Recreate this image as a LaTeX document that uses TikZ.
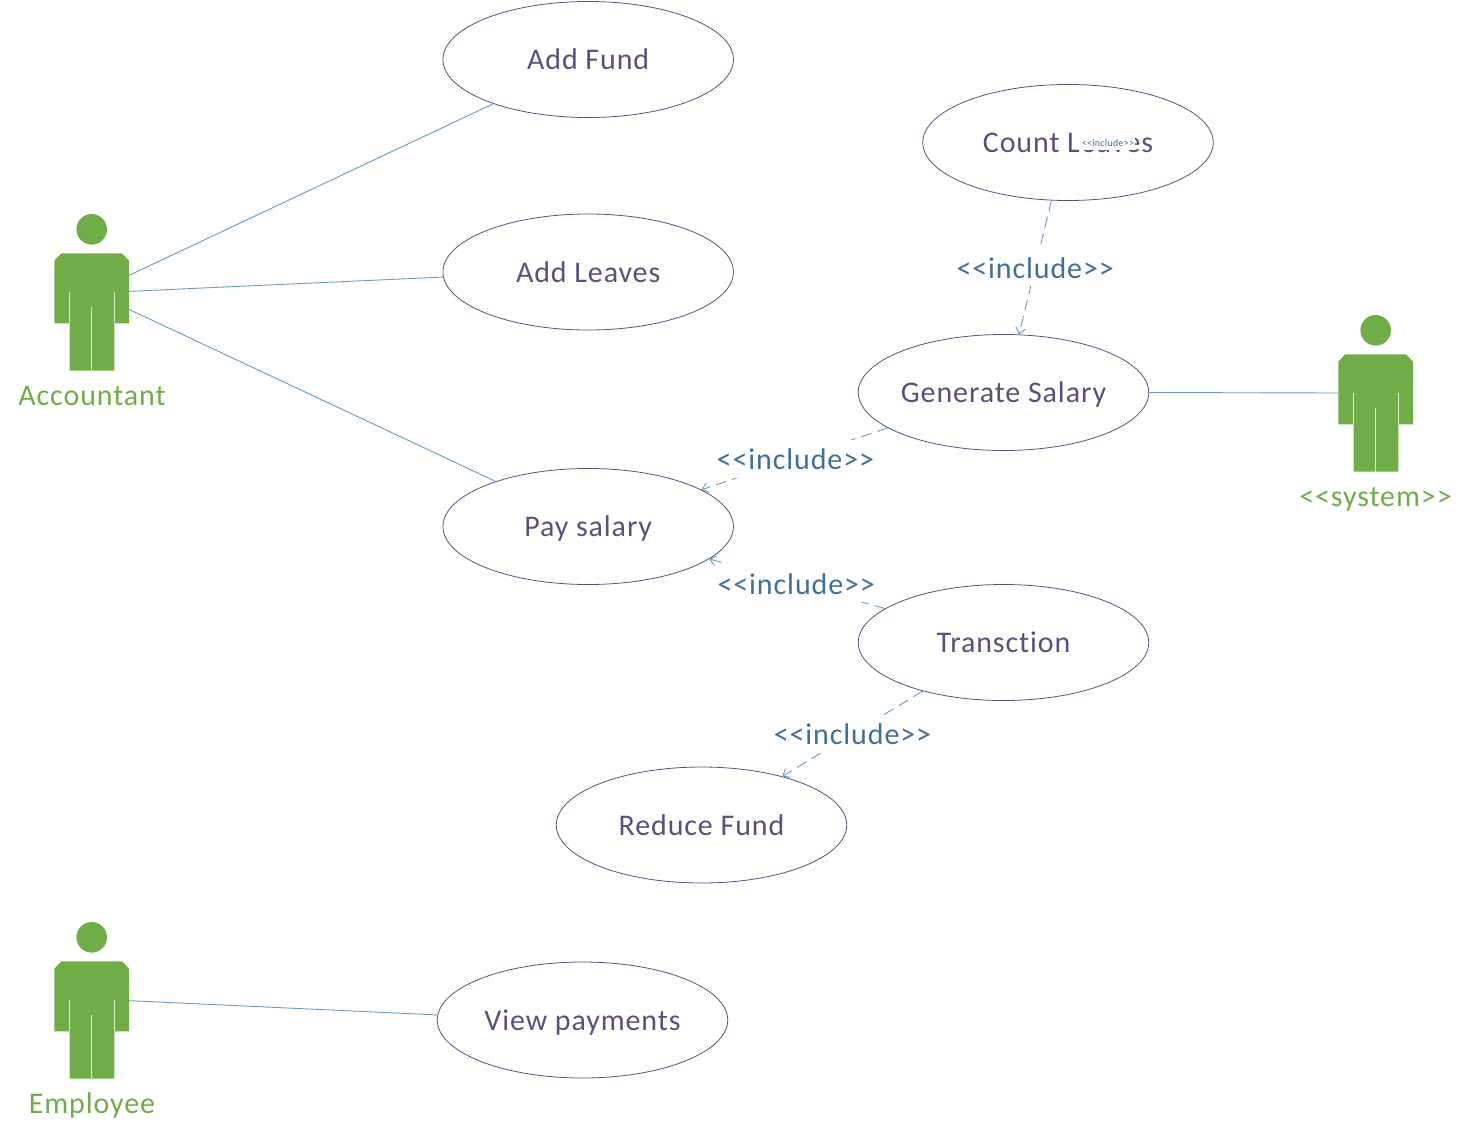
\documentclass[tikz,border=0pt]{standalone}
\usepackage{fontspec}
\setmainfont{Carlito}[LetterSpace=3,Ligatures={NoCommon,NoContextual}]
\usetikzlibrary{shapes.geometric,arrows.meta}
\definecolor{actorgreen}{HTML}{70AD47}
\definecolor{ucline}{HTML}{55527C}
\definecolor{uctext}{HTML}{55527E}
\definecolor{conn}{HTML}{6A9BC6}
\definecolor{inctext}{HTML}{3F6F9B}
\tikzset{
  usecase/.style={ellipse,draw=ucline,line width=0.8pt,minimum width=290.5pt,minimum height=116pt,inner sep=0pt,text=uctext,text height=20pt,text depth=0pt,font=\fontsize{30}{32}\selectfont},
  assoc/.style={draw=conn,line width=0.9pt},
  incl/.style={draw=conn,line width=0.9pt,dash pattern=on 11pt off 6pt,-{Straight Barb[length=6pt,width=10pt]}},
  inclabel/.style={midway,fill=white,inner sep=0pt,minimum width=160pt,text height=30pt,text depth=8pt,text=inctext,font=\fontsize{30}{32}\selectfont},
  actorlabel/.style={text=actorgreen,font=\fontsize{30}{32}\selectfont,inner sep=0pt,text height=20pt,text depth=0pt},
  actorbody/.style={rectangle,inner sep=0pt,minimum width=74.7pt,minimum height=78pt},
  slit/.style={draw=white!75!actorgreen,line width=1pt}
}
% #1 node name, #2 shift x, #3 shift y
\newcommand{\umlactor}[3]{%
  \begin{scope}[shift={(#2,#3)}]
    \fill[actorgreen] (91.7,229.3) circle[radius=15.3];
    \fill[actorgreen] (61.3,253.3) -- (122,253.3) -- (129,260.7) -- (129,323.3) -- (114.3,323.3) -- (114.3,370.7) -- (69.5,370.7) -- (69.5,323.3) -- (54.3,323.3) -- (54.3,260.7) -- cycle;
    \draw[slit] (69.5,291.7) -- (69.5,323.3);
    \draw[slit] (114.3,291.7) -- (114.3,323.3);
    \draw[slit] (91.7,307.3) -- (91.7,370.7);
    \node[actorbody] (#1) at (91.7,292) {};
  \end{scope}}
\begin{document}
\begin{tikzpicture}[x=1pt,y=-1pt]
\useasboundingbox (0,0) rectangle (1470,1138);
\umlactor{acc}{0}{0}
\umlactor{sys}{1284}{101}
\umlactor{emp}{0}{708}
\node[actorlabel] (accl) at (92,395) {Accountant};
\node[actorlabel] (sysl) at (1375.5,496) {<{}<system>{}>};
\node[actorlabel] (empl) at (92,1103) {Employee};
\node[usecase] (fund) at (588.2,59.5) {Add Fund};
\node[usecase] (leaves) at (588.2,272) {Add Leaves};
\node[usecase] (count) at (1068,142.5) {Count Leaves};
\node[usecase] (gen) at (1003.5,392.5) {Generate Salary};
\node[usecase] (pay) at (588.2,526.5) {Pay salary};
\node[usecase] (trans) at (1003.5,642.5) {Transction};
\node[usecase] (reduce) at (701.5,825) {Reduce Fund};
\node[usecase] (view) at (582.5,1020) {View payments};
\node[fill=white,inner sep=0pt,minimum width=54pt,text height=9.5pt,text depth=3.5pt,text=inctext,font=\fontsize{10}{11}\selectfont] (tiny) at (1108,143) {<{}<include>{}>};
\draw[assoc] (acc.24.7) -- (fund.205.6);
\draw[assoc] (acc.1) -- (leaves.182.6);
\draw[assoc] (acc.-25.9) -- (pay.154.4);
\draw[assoc] (emp.-1) -- (view.178);
\draw[assoc] (gen.east) -- (sys.west);
\draw[incl] (count.254.6) -- node[inclabel] (i1) {<{}<include>{}>} (gen.75.6);
\draw[incl] (gen.197.8) -- node[inclabel,pos=0.495] (i2) {<{}<include>{}>} (pay.18);
\draw[incl] (trans.164.7) -- node[inclabel,pos=0.505] (i3) {<{}<include>{}>} (pay.-15.3);
\draw[incl] (trans.211.6) -- node[inclabel] (i4) {<{}<include>{}>} (reduce.31);
\end{tikzpicture}
\end{document}
